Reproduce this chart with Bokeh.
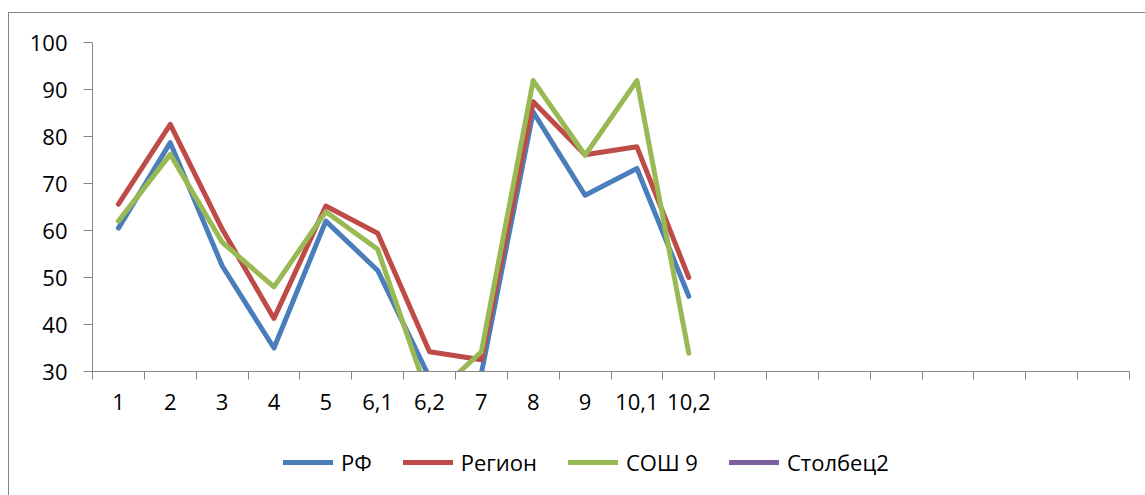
from bokeh.plotting import figure
from bokeh.layouts import column
from bokeh.models import (Range1d, FixedTicker, LinearAxis, Legend, LegendItem)
from bokeh.embed import file_html
from bokeh.resources import INLINE

nan = float("nan")

# ---- data ----
categories = ["1", "2", "3", "4", "5", "6,1", "6,2", "7", "8", "9", "10,1", "10,2",
              "", "", "", "", "", "", "", ""]
rf = [60.5, 78.7, 52.5, 35.0, 62.0, 51.5, 28.7, 29.6, 85.2, 67.5, 73.2, 46.0]
region = [65.6, 82.6, 60.3, 41.3, 65.2, 59.4, 34.2, 32.5, 87.4, 76.1, 77.8, 50.0]
sosh9 = [62.0, 76.2, 57.5, 48.0, 64.0, 56.0, 24.0, 34.2, 91.9, 76.0, 91.9, 33.9]
stolbets2 = [nan] * 12  # empty column in the source table
y_ticks = [30, 40, 50, 60, 70, 80, 90, 100]
series_names = ["РФ", "Регион", "СОШ 9", "Столбец2"]
series_colors = ["#4A7EBB", "#BE4B48", "#98B954", "#7D60A0"]

FONT = "Open Sans"
GRID = "#868686"
n_cat = len(categories)
centers = [i + 0.5 for i in range(n_cat)]
bounds = list(range(n_cat + 1))

p = figure(width=1136, height=412, output_backend="svg", toolbar_location=None,
           x_range=Range1d(0, n_cat), y_range=Range1d(y_ticks[0], y_ticks[-1]),
           x_axis_type=None, y_axis_type=None,
           min_border_left=83, min_border_right=16, min_border_top=29, min_border_bottom=54)
p.outline_line_color = None
p.background_fill_color = "white"
p.border_fill_color = "white"

# y axis
yax = LinearAxis(ticker=FixedTicker(ticks=y_ticks))
yax.axis_line_color = GRID
yax.major_tick_line_color = GRID
yax.major_tick_out = 9
yax.major_tick_in = 0
yax.minor_tick_line_color = None
yax.major_label_standoff = 16
yax.major_label_text_font = FONT
yax.major_label_text_font_size = "22px"
yax.major_label_text_color = "black"
p.add_layout(yax, "left")

# x axis
xax = LinearAxis(ticker=FixedTicker(ticks=centers, minor_ticks=bounds))
xax.axis_line_color = GRID
xax.major_tick_line_color = None
xax.major_tick_out = 0
xax.minor_tick_line_color = GRID
xax.minor_tick_out = 8
xax.minor_tick_in = 0
xax.major_label_overrides = {c: lab for c, lab in zip(centers, categories)}
xax.major_label_standoff = 14
xax.major_label_text_font = FONT
xax.major_label_text_font_size = "22px"
xax.major_label_text_color = "black"
p.add_layout(xax, "below")

p.xgrid.visible = False
p.ygrid.ticker = FixedTicker(ticks=y_ticks)
p.ygrid.grid_line_color = GRID
p.ygrid.grid_line_width = 1.4

def xs(vals):
    return centers[:len(vals)]

common = dict(line_width=5, line_cap="round", line_join="round")
for vals, col in zip([rf, region, sosh9, stolbets2], series_colors):
    p.line(xs(vals), vals, line_color=col, **common)

# legend strip below the plot (same series, legend only)
pl = figure(width=1136, height=71, output_backend="svg", toolbar_location=None,
            x_range=Range1d(0, 1), y_range=Range1d(0, 1),
            x_axis_type=None, y_axis_type=None,
            min_border_left=0, min_border_right=0, min_border_top=0, min_border_bottom=0)
pl.outline_line_color = None
pl.xgrid.visible = False
pl.ygrid.visible = False
items = []
for name, col in zip(series_names, series_colors):
    r = pl.line([nan], [nan], line_color=col, **common)
    items.append(LegendItem(label=name, renderers=[r]))

legend = Legend(items=items, location=(191, 19), orientation="horizontal")
legend.glyph_width = 50
legend.glyph_height = 20
legend.label_standoff = 8
legend.spacing = 31
legend.padding = 0
legend.margin = 0
legend.border_line_color = None
legend.background_fill_alpha = 0
legend.label_text_font = FONT
legend.label_text_font_size = "22px"
legend.label_text_color = "black"
pl.add_layout(legend, "center")

layout = column(p, pl, spacing=0, margin=(12, 0, 0, 8))
layout.styles = {"border-left": "1px solid #868686", "border-top": "1px solid #868686"}

open("out.html", "w").write(file_html(layout, INLINE))
